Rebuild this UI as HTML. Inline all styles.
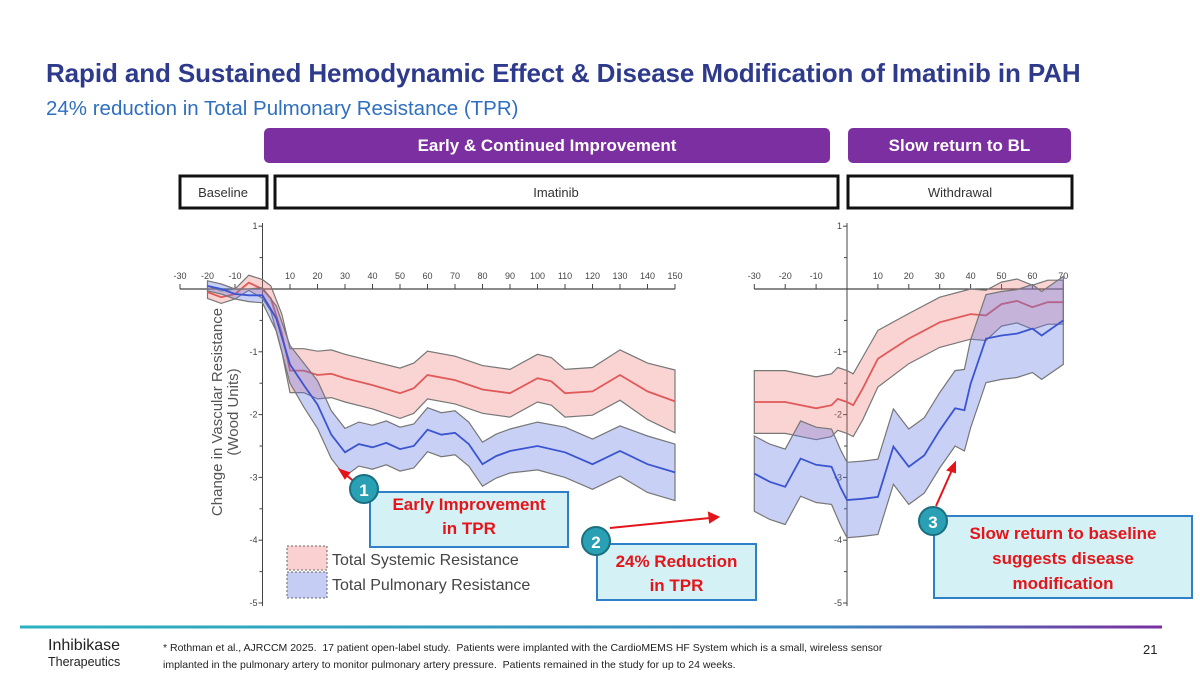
<!DOCTYPE html>
<html><head><meta charset="utf-8">
<style>
body{margin:0;width:1200px;height:675px;overflow:hidden;background:#fff;font-family:"Liberation Sans",sans-serif;position:relative}
.abs{position:absolute}
.title{left:46px;top:58px;font-size:26px;font-weight:bold;color:#2e3a8c;white-space:nowrap;letter-spacing:-0.1px}
.sub{left:46px;top:97px;font-size:20.5px;color:#2f6fc0;white-space:nowrap}
.pbox{background:#7b2fa0;color:#fff;font-weight:bold;font-size:17px;text-align:center;line-height:35px;border-radius:5px;height:35px;top:128px}
.call{background:#d4f1f5;border:2px solid #2f80c8;color:#e3151a;font-weight:bold;font-size:17px;text-align:center;line-height:24px;box-sizing:border-box}
.circ{width:30px;height:30px;border-radius:50%;background:#2aa0b5;border:2px solid #1a6f80;color:#fff;font-weight:bold;font-size:17px;text-align:center;line-height:30px;box-sizing:border-box}
</style></head><body>
<div class="abs title">Rapid and Sustained Hemodynamic Effect &amp; Disease Modification of Imatinib in PAH</div>
<div class="abs sub">24% reduction in Total Pulmonary Resistance (TPR)</div>
<div class="abs pbox" style="left:264px;width:566px">Early &amp; Continued Improvement</div>
<div class="abs pbox" style="left:848px;width:223px">Slow return to BL</div>

<svg class="abs" style="left:0;top:0" width="1200" height="675">
<defs><linearGradient id="gl" x1="0" y1="0" x2="1" y2="0"><stop offset="0" stop-color="#2bb3c0"/><stop offset="0.7" stop-color="#3a8ac0"/><stop offset="1" stop-color="#7b2fa0"/></linearGradient></defs>
<g font-family="Liberation Sans, sans-serif">
<rect x="180" y="176" width="87" height="32" fill="#fff" stroke="#111" stroke-width="3"/>
<text x="223" y="197" font-size="13" text-anchor="middle" fill="#333">Baseline</text>
<rect x="275" y="176" width="563" height="32" fill="#fff" stroke="#111" stroke-width="3"/>
<text x="556" y="197" font-size="13" text-anchor="middle" fill="#333">Imatinib</text>
<rect x="848" y="176" width="224" height="32" fill="#fff" stroke="#111" stroke-width="3"/>
<text x="960" y="197" font-size="13" text-anchor="middle" fill="#333">Withdrawal</text>
<text transform="translate(222,412) rotate(-90)" font-size="15" text-anchor="middle" fill="#555">Change in Vascular Resistance</text>
<text transform="translate(238,412) rotate(-90)" font-size="15" text-anchor="middle" fill="#555">(Wood Units)</text>
<g id="axes"></g>
<g id="bands"></g>
<g>
<rect x="287" y="546" width="40" height="24" fill="rgba(240,120,120,0.35)" stroke="#666" stroke-dasharray="2,2"/>
<text x="332" y="565" font-size="16" fill="#444">Total Systemic Resistance</text>
<rect x="287" y="572" width="40" height="26" fill="rgba(110,130,230,0.4)" stroke="#666" stroke-dasharray="2,2"/>
<text x="332" y="590" font-size="16" fill="#444">Total Pulmonary Resistance</text>
</g>
<g stroke="#e3151a" stroke-width="2" fill="#e3151a">
<line x1="357" y1="484" x2="345" y2="474"/><polygon points="340,470 349,473 345,478"/>
<line x1="610" y1="528" x2="710" y2="518"/><polygon points="718,517 709,513 710,522"/>
<line x1="936" y1="506" x2="952" y2="470"/><polygon points="955,463 948,470 955,472"/>
</g>
<rect x="20" y="625.5" width="1142" height="3" fill="url(#gl)"/>
</g>
</svg>

<div class="abs call" style="left:369px;top:491px;width:200px;height:57px">Early Improvement<br>in TPR</div>
<div class="abs circ" style="left:349px;top:474px">1</div>
<div class="abs call" style="left:596px;top:543px;width:161px;height:58px;padding-top:5px">24% Reduction<br>in TPR</div>
<div class="abs circ" style="left:581px;top:526px">2</div>
<div class="abs call" style="left:933px;top:515px;width:260px;height:84px;padding-top:4px;line-height:25px">Slow return to baseline<br>suggests disease<br>modification</div>
<div class="abs circ" style="left:918px;top:506px">3</div>

<div class="abs" style="left:48px;top:638px;font-size:16px;color:#222;line-height:16px">Inhibikase<br><span style="font-size:12.5px">Therapeutics</span></div>
<div class="abs" style="left:163px;top:640px;font-size:10.5px;color:#222;line-height:17px;white-space:nowrap">* Rothman et al., AJRCCM 2025.&nbsp; 17 patient open-label study.&nbsp; Patients were implanted with the CardioMEMS HF System which is a small, wireless sensor<br>implanted in the pulmonary artery to monitor pulmonary artery pressure.&nbsp; Patients remained in the study for up to 24 weeks.</div>
<div class="abs" style="left:1143px;top:642px;font-size:13px;color:#222">21</div>

<script>
// Left panel (baseline + imatinib)
const leftDays = [-20,-15,-10,-5,0,3,7,10,15,20,25,30,40,50,55,60,70,80,90,100,105,110,120,130,140,150];
const leftTSR  = [-0.05,-0.13,-0.08,0.1,0,-0.15,-0.7,-1.3,-1.3,-1.37,-1.35,-1.42,-1.53,-1.66,-1.58,-1.37,-1.45,-1.6,-1.66,-1.42,-1.47,-1.66,-1.63,-1.37,-1.63,-1.79];
const leftTSRerr = [0.1,0.1,0.08,0.12,0.15,0.2,0.3,0.35,0.35,0.38,0.38,0.38,0.38,0.4,0.4,0.38,0.38,0.38,0.38,0.38,0.38,0.38,0.38,0.4,0.45,0.5];
const leftDaysTPR = [-20,-15,-10,-5,0,5,10,15,20,25,30,35,40,45,50,55,60,65,70,75,80,85,90,100,110,120,130,140,150];
const leftTPR = [0.05,0,-0.08,-0.1,-0.1,-0.47,-1.2,-1.53,-1.84,-2.32,-2.6,-2.47,-2.52,-2.45,-2.55,-2.5,-2.24,-2.32,-2.29,-2.47,-2.79,-2.66,-2.58,-2.5,-2.6,-2.79,-2.58,-2.79,-2.92];
const leftTPRerr = [0.08,0.08,0.08,0.1,0.12,0.2,0.3,0.35,0.38,0.38,0.38,0.35,0.35,0.35,0.35,0.35,0.35,0.35,0.35,0.35,0.35,0.35,0.35,0.38,0.4,0.4,0.4,0.45,0.45];
// Right panel (withdrawal)
const rightDays = [-30,-20,-10,-5,-3,0,2,5,10,20,30,40,45,50,55,60,65,70];
const rightTSR  = [-1.8,-1.8,-1.9,-1.85,-1.75,-1.8,-1.85,-1.59,-1.11,-0.79,-0.53,-0.4,-0.42,-0.24,-0.19,-0.29,-0.21,-0.21];
const rightTSRerr = [0.5,0.5,0.5,0.5,0.5,0.5,0.5,0.5,0.45,0.4,0.4,0.4,0.4,0.35,0.35,0.35,0.35,0.35];
const rightDaysTPR = [-30,-25,-20,-15,-10,-5,-2,0,5,10,15,20,25,30,35,38,40,45,50,55,60,63,70];
const rightTPR = [-2.94,-3.07,-3.15,-2.7,-2.8,-2.83,-3.17,-3.36,-3.34,-3.31,-2.51,-2.83,-2.65,-2.25,-1.9,-1.93,-1.51,-0.79,-0.74,-0.71,-0.63,-0.74,-0.5];
const rightTPRerr = [0.6,0.6,0.6,0.6,0.6,0.6,0.6,0.6,0.6,0.6,0.6,0.6,0.6,0.6,0.6,0.65,0.7,0.7,0.7,0.7,0.7,0.7,0.7];
const yTicks = [1,0,-1,-2,-3,-4,-5];
const leftXTicks = [-30,-20,-10,10,20,30,40,50,60,70,80,90,100,110,120,130,140,150];
const rightXTicks = [-30,-20,-10,10,20,30,40,50,60,70];

const NS='http://www.w3.org/2000/svg';
const yv = v => 289 - v*62.8;
const xL = d => 262.5 + d*2.75;
const xR = d => 847 + d*3.09;
function mk(tag,attrs,parent){const e=document.createElementNS(NS,tag);for(const k in attrs)e.setAttribute(k,attrs[k]);parent.appendChild(e);return e;}
const axes=document.getElementById('axes'), bands=document.getElementById('bands');

function drawAxes(xf,x0,x1,xt,name){
  const ya=mk('line',{x1:xf(0),x2:xf(0),y1:yv(1.05),y2:yv(-5.05),stroke:'#444','stroke-width':1},axes);
  
  
  const xa=mk('line',{x1:xf(x0),x2:xf(x1),y1:yv(0),y2:yv(0),stroke:'#444','stroke-width':1.3},axes);
  
  
  for(const t of yTicks){
    if(t!==0){
      mk('line',{x1:xf(0)-4,x2:xf(0),y1:yv(t),y2:yv(t),stroke:'#444'},axes);
      const tx=mk('text',{x:xf(0)-5,y:yv(t)+3,'font-size':9,'text-anchor':'end',fill:'#444'},axes);tx.textContent=t;
      
      
    }
    if(t>-5) mk('line',{x1:xf(0)-3,x2:xf(0),y1:yv(t-0.5),y2:yv(t-0.5),stroke:'#444'},axes);
  }
  for(const t of xt){
    mk('line',{x1:xf(t),x2:xf(t),y1:yv(0),y2:yv(0)-5,stroke:'#444'},axes);
    const tx=mk('text',{x:xf(t),y:yv(0)-10,'font-size':9,'text-anchor':'middle',fill:'#444'},axes);tx.textContent=t;
    
    
  }
}
drawAxes(xL,-30,150,leftXTicks,'left');
drawAxes(xR,-30,70,rightXTicks,'right');

function band(xf,days,mean,err,fill,line,name){
  const hi=days.map((d,i)=>xf(d).toFixed(1)+','+yv(mean[i]+err[i]).toFixed(1));
  const lo=days.map((d,i)=>xf(d).toFixed(1)+','+yv(mean[i]-err[i]).toFixed(1)).reverse();
  const p=mk('polygon',{points:hi.concat(lo).join(' '),fill:fill,stroke:'#777','stroke-width':1.2},bands);
  
  
  const l=mk('polyline',{points:days.map((d,i)=>xf(d).toFixed(1)+','+yv(mean[i]).toFixed(1)).join(' '),fill:'none',stroke:line,'stroke-width':1.8},bands);
  
  
}
const RF='rgba(240,110,110,0.3)', BF='rgba(100,120,230,0.35)';
band(xL,leftDays,leftTSR,leftTSRerr,RF,'#e05a5a','left-tsr');
band(xL,leftDaysTPR,leftTPR,leftTPRerr,BF,'#3b55d0','left-tpr');
band(xR,rightDays,rightTSR,rightTSRerr,RF,'#e05a5a','right-tsr');
band(xR,rightDaysTPR,rightTPR,rightTPRerr,BF,'#3b55d0','right-tpr');
</script>
</body></html>
